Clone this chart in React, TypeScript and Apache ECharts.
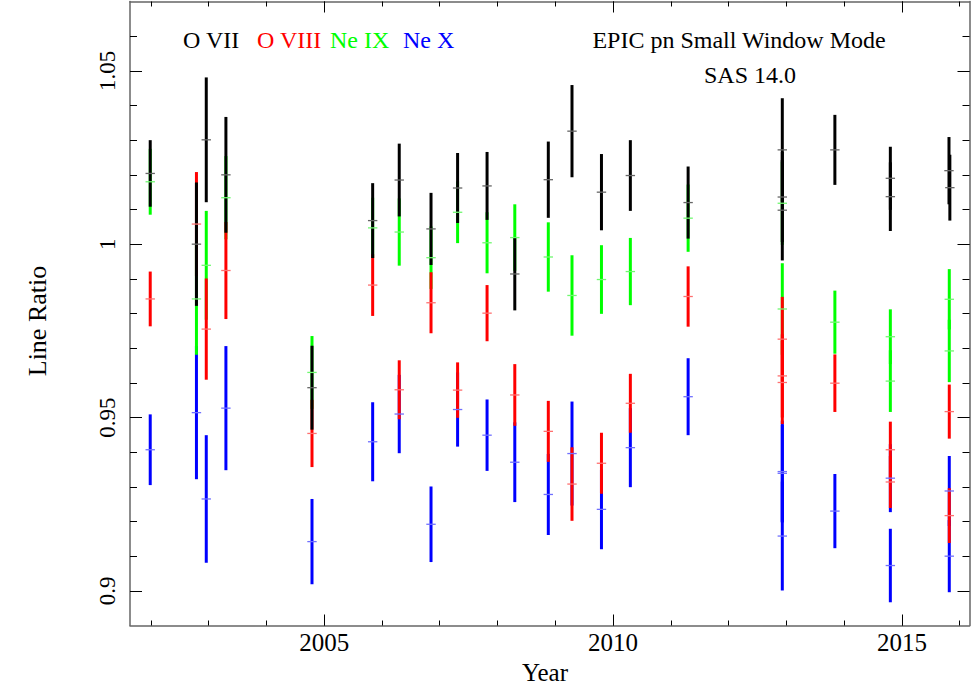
import React, { useEffect, useRef } from 'react';
import * as echarts from 'echarts';

// Axis extents and tick values
const X_MIN = 2001.64;
const X_MAX = 2016.17;
const Y_MIN = 0.89;
const Y_MAX = 1.07;
const MAJOR_YEARS = [2005, 2010, 2015];
const MINOR_YEARS = [2002, 2003, 2004, 2005, 2006, 2007, 2008, 2009, 2010, 2011, 2012, 2013, 2014, 2015, 2016];
const MAJOR_RATIOS = [0.9, 0.95, 1.0, 1.05];
const MINOR_RATIOS = [0.91, 0.92, 0.93, 0.94, 0.95, 0.96, 0.97, 0.98, 0.99, 1.0, 1.01, 1.02, 1.03, 1.04, 1.05, 1.06];

// O VII (black)
const OVII_YEAR = [2001.99, 2002.79, 2002.96, 2003.30, 2004.79, 2005.84, 2006.30, 2006.85, 2007.31, 2007.82, 2008.30, 2008.88, 2009.29, 2009.80, 2010.30, 2011.30, 2012.93, 2012.93, 2012.93, 2013.84, 2014.80, 2014.80, 2015.815, 2015.83];
const OVII_VAL = [1.0204, 1.0000, 1.0301, 1.0200, 0.9586, 1.0068, 1.0185, 1.0044, 1.0162, 1.0168, 0.9914, 1.0186, 1.0326, 1.0150, 1.0198, 1.0120, 1.0272, 1.0136, 1.0098, 1.0272, 1.0190, 1.0137, 1.0212, 1.0163];
const OVII_ERR = [0.0096, 0.0178, 0.0180, 0.0167, 0.0121, 0.0108, 0.0105, 0.0104, 0.0101, 0.0098, 0.0105, 0.0110, 0.0133, 0.0110, 0.0102, 0.0104, 0.0149, 0.0130, 0.0145, 0.0101, 0.0091, 0.0099, 0.0097, 0.0095];

// O VIII (red)
const OVIII_YEAR = [2001.99, 2002.79, 2002.96, 2003.30, 2004.79, 2005.84, 2006.30, 2006.85, 2007.31, 2007.82, 2008.30, 2008.88, 2009.29, 2009.80, 2010.30, 2011.30, 2012.93, 2012.93, 2012.93, 2013.84, 2014.80, 2014.80, 2015.82, 2015.82];
const OVIII_VAL = [0.9842, 1.0058, 0.9755, 0.9924, 0.9454, 0.9882, 0.9580, 0.9831, 0.9579, 0.9801, 0.9565, 0.9460, 0.9308, 0.9368, 0.9541, 0.9849, 0.9726, 0.9620, 0.9601, 0.9599, 0.9407, 0.9314, 0.9517, 0.9217];
const OVIII_ERR = [0.0079, 0.0150, 0.0146, 0.0140, 0.0097, 0.0089, 0.0085, 0.0088, 0.0080, 0.0081, 0.0089, 0.0088, 0.0106, 0.0088, 0.0085, 0.0087, 0.0122, 0.0120, 0.0120, 0.0083, 0.0081, 0.0075, 0.0078, 0.0079];

// Ne IX (green)
const NEIX_YEAR = [2001.99, 2002.79, 2002.96, 2003.30, 2004.79, 2005.84, 2006.30, 2006.85, 2007.31, 2007.82, 2008.30, 2008.88, 2009.29, 2009.80, 2010.30, 2011.30, 2012.93, 2012.93, 2013.84, 2014.80, 2014.80, 2015.82, 2015.82];
const NEIX_VAL = [1.0180, 0.9842, 0.9939, 1.0134, 0.9630, 1.0047, 1.0035, 0.9961, 1.0092, 1.0004, 1.0019, 0.9963, 0.9852, 0.9898, 0.9921, 1.0075, 1.0118, 0.9813, 0.9775, 0.9733, 0.9605, 0.9841, 0.9692];
const NEIX_ERR = [0.0095, 0.0161, 0.0157, 0.0120, 0.0105, 0.0087, 0.0097, 0.0090, 0.0089, 0.0088, 0.0096, 0.0100, 0.0116, 0.0099, 0.0097, 0.0097, 0.0120, 0.0132, 0.0091, 0.0079, 0.0089, 0.0087, 0.0090];

// Ne X (blue)
const NEX_YEAR = [2001.99, 2002.79, 2002.96, 2003.30, 2004.79, 2005.84, 2006.30, 2006.85, 2007.31, 2007.82, 2008.30, 2008.88, 2009.29, 2009.80, 2010.30, 2011.30, 2012.93, 2012.93, 2012.93, 2013.84, 2014.80, 2014.80, 2015.82, 2015.82];
const NEX_VAL = [0.9407, 0.9514, 0.9265, 0.9527, 0.9142, 0.9430, 0.9510, 0.9192, 0.9523, 0.9449, 0.9371, 0.9278, 0.9396, 0.9235, 0.9413, 0.9560, 0.9344, 0.9339, 0.9158, 0.9230, 0.9325, 0.9073, 0.9288, 0.9100];
const NEX_ERR = [0.0102, 0.0192, 0.0184, 0.0179, 0.0123, 0.0114, 0.0113, 0.0109, 0.0107, 0.0103, 0.0115, 0.0117, 0.0150, 0.0115, 0.0114, 0.0111, 0.0147, 0.0140, 0.0157, 0.0107, 0.0098, 0.0106, 0.0101, 0.0104];

const FONT = "'Liberation Serif', 'Times New Roman', Times, serif";

function zip(years: number[], vals: number[], errs: number[]) {
  return years.map((y, i) => [y, vals[i], errs[i]]);
}

function errSeries(name: string, data: number[][], color: string, tickColor: string) {
  return {
    type: 'custom',
    name,
    xAxisIndex: 0,
    yAxisIndex: 0,
    data,
    encode: { x: 0, y: 1 },
    renderItem: (params: any, api: any) => {
      const x = api.value(0);
      const v = api.value(1);
      const e = api.value(2);
      const top = api.coord([x, v + e]);
      const bot = api.coord([x, v - e]);
      const mid = api.coord([x, v]);
      return {
        type: 'group',
        children: [
          {
            type: 'line',
            z2: 0,
            shape: { x1: top[0], y1: top[1], x2: bot[0], y2: bot[1] },
            style: { stroke: color, lineWidth: 3 },
          },
          {
            type: 'line',
            z2: 10,
            shape: { x1: mid[0] - 4.7, y1: mid[1], x2: mid[0] + 4.7, y2: mid[1] },
            style: { stroke: tickColor, lineWidth: 1.3 },
          },
        ],
      };
    },
  };
}

const lineStyle = { color: '#666', width: 1.5 };
const tickStyle = { color: '#000', width: 1 };

function xAxisCfg(position: string, values: number[], len: number, showLine: boolean, showLabel: boolean) {
  return {
    type: 'value',
    position,
    min: X_MIN,
    max: X_MAX,
    axisLine: { show: showLine, onZero: false, lineStyle },
    axisTick: { show: true, inside: true, length: len, customValues: values, lineStyle: tickStyle },
    axisLabel: {
      show: showLabel,
      customValues: values,
      margin: 4,
      fontFamily: FONT,
      fontSize: 25,
      color: '#000',
      formatter: (v: number) => String(Math.round(v)),
    },
    splitLine: { show: false },
  };
}

function yAxisCfg(position: string, values: number[], len: number, showLine: boolean, showLabel: boolean) {
  return {
    type: 'value',
    position,
    min: Y_MIN,
    max: Y_MAX,
    axisLine: { show: showLine, onZero: false, lineStyle },
    axisTick: { show: true, inside: true, length: len, customValues: values, lineStyle: tickStyle },
    axisLabel: {
      show: showLabel,
      customValues: values,
      rotate: 90,
      margin: 11,
      fontFamily: FONT,
      fontSize: 23,
      color: '#000',
      formatter: (v: number) => String(+v.toFixed(2)),
    },
    splitLine: { show: false },
  };
}

export default function App() {
  const ref = useRef<HTMLDivElement>(null);
  useEffect(() => {
    document.body.style.margin = '0';
    const chart = echarts.init(ref.current!, undefined, { renderer: 'svg' });
    const textBase = { fontFamily: FONT, fontSize: 24, textVerticalAlign: 'middle' };
    chart.setOption({
      animation: false,
      backgroundColor: '#fff',
      grid: { left: 130, right: 2.5, top: 1.5, bottom: 59.5, containLabel: false },
      xAxis: [
        xAxisCfg('bottom', MAJOR_YEARS, 11, true, true),
        xAxisCfg('bottom', MINOR_YEARS, 5, false, false),
        xAxisCfg('top', MAJOR_YEARS, 11, true, false),
        xAxisCfg('top', MINOR_YEARS, 5, false, false),
      ],
      yAxis: [
        yAxisCfg('left', MAJOR_RATIOS, 12, true, true),
        yAxisCfg('left', MINOR_RATIOS, 7, false, false),
        yAxisCfg('right', MAJOR_RATIOS, 12, true, false),
        yAxisCfg('right', MINOR_RATIOS, 7, false, false),
      ],
      series: [
        errSeries('Ne X', zip(NEX_YEAR, NEX_VAL, NEX_ERR), '#0000ff', '#7070ff'),
        errSeries('Ne IX', zip(NEIX_YEAR, NEIX_VAL, NEIX_ERR), '#00ff00', '#70f870'),
        errSeries('O VIII', zip(OVIII_YEAR, OVIII_VAL, OVIII_ERR), '#ff0000', '#ff7070'),
        errSeries('O VII', zip(OVII_YEAR, OVII_VAL, OVII_ERR), '#000000', '#666666'),
      ],
      graphic: [
        { type: 'text', left: 183, top: 28, style: { ...textBase, text: 'O VII', fill: '#000' } },
        { type: 'text', left: 257, top: 28, style: { ...textBase, text: 'O VIII', fill: '#ff0000' } },
        { type: 'text', left: 330, top: 28, style: { ...textBase, text: 'Ne IX', fill: '#00ff00' } },
        { type: 'text', left: 403, top: 28, style: { ...textBase, text: 'Ne X', fill: '#0000ff' } },
        { type: 'text', x: 739, y: 40, style: { ...textBase, text: 'EPIC pn Small Window Mode', fill: '#000', textAlign: 'center' } },
        { type: 'text', x: 750, y: 75, style: { ...textBase, text: 'SAS 14.0', fill: '#000', textAlign: 'center' } },
        { type: 'text', x: 545, y: 672.5, style: { ...textBase, fontSize: 25, text: 'Year', fill: '#000', textAlign: 'center' } },
        { type: 'text', x: 37, y: 321, rotation: Math.PI / 2, style: { ...textBase, fontSize: 26, text: 'Line Ratio', fill: '#000', textAlign: 'center' } },
      ],
    });
    return () => chart.dispose();
  }, []);
  return <div ref={ref} style={{ position: 'absolute', left: 0, top: 0, width: 972, height: 685 }} />;
}
